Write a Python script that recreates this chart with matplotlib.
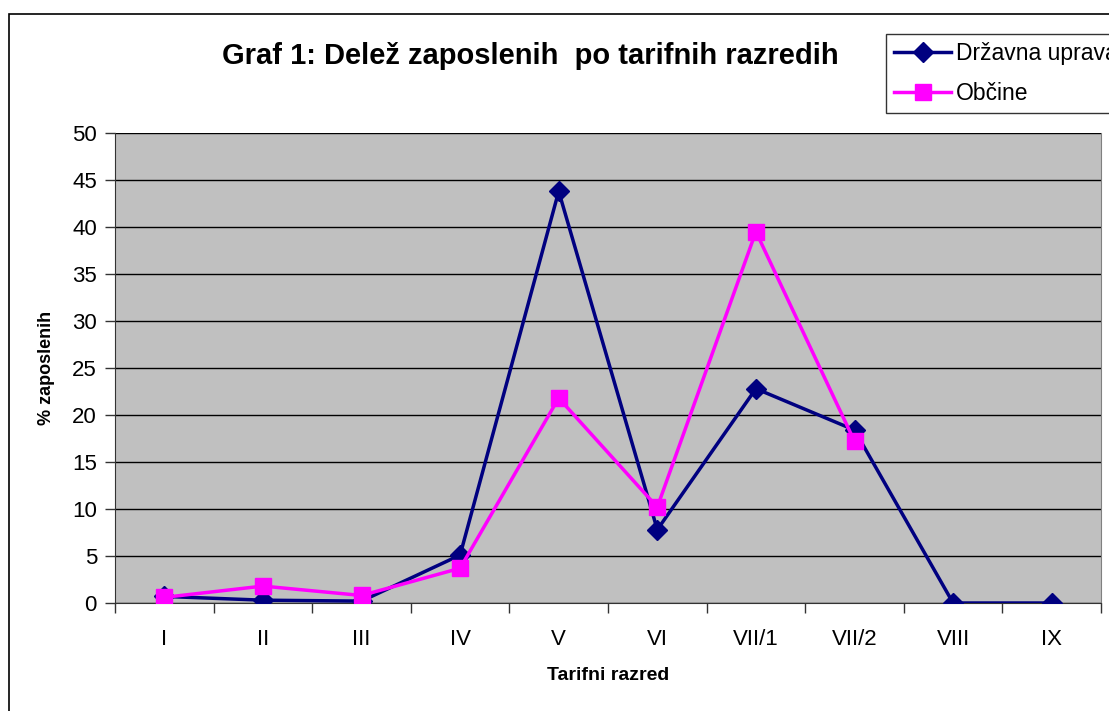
import matplotlib.pyplot as plt
import matplotlib.patches as mpatches
import numpy as np

razredi = ['I', 'II', 'III', 'IV', 'V', 'VI', 'VII/1', 'VII/2', 'VIII', 'IX']
drzavna_uprava = [0.7, 0.3, 0.2, 5.1, 43.8, 7.8, 22.8, 18.4, 0.0, 0.0]
obcine = [0.6, 1.8, 0.8, 3.7, 21.8, 10.2, 39.5, 17.2, np.nan, np.nan]

plt.rcParams['font.family'] = ['Liberation Sans', 'DejaVu Sans']

fig = plt.figure(figsize=(11.09, 7.11), dpi=100)
ax = fig.add_axes([115/1109, 1-603/711, (1101-115)/1109, (603-133)/711])
ax.set_facecolor('#C0C0C0')

x = np.arange(len(razredi))
ax.plot(x, drzavna_uprava, color='#000080', lw=2.5, marker='D', markersize=10,
        label='Državna uprava', zorder=3)
ax.plot(x, obcine, color='#FF00FF', lw=2.5, marker='s', markersize=12,
        label='Občine', zorder=4)

ax.set_xlim(-0.5, 9.5)
ax.set_ylim(0, 50)
ax.set_yticks(np.arange(0, 51, 5))
ax.yaxis.grid(True, color='black', lw=1)
ax.set_axisbelow(True)
ax.set_xticks(x)
ax.set_xticklabels(razredi)
ax.set_xticks(np.arange(-0.5, 10, 1), minor=True)
ax.tick_params(axis='x', which='major', length=0, pad=19, labelsize=16)
ax.tick_params(axis='x', which='minor', length=7, width=1, color='#333333')
ax.tick_params(axis='y', length=7, width=1, color='#333333', labelsize=16, pad=6)

ax.spines['top'].set_visible(False)
ax.spines['right'].set_color('#808080')
ax.spines['left'].set_color('#333333')
ax.spines['bottom'].set_color('#333333')

ax.set_ylabel('% zaposlenih', fontsize=13, fontweight='bold', labelpad=12)
ax.set_xlabel('Tarifni razred', fontsize=14, fontweight='bold', labelpad=12)

fig.text(530/1109, 1-56/711, 'Graf 1: Delež zaposlenih  po tarifnih razredih',
         ha='center', va='center', fontsize=21, fontweight='bold')

leg = fig.legend(loc='upper left', bbox_to_anchor=(886/1109, 1-34/711),
                 fontsize=16.5, frameon=True, fancybox=False, edgecolor='black',
                 handlelength=2.5, borderpad=0.35, labelspacing=0.75,
                 handletextpad=0.2, borderaxespad=0)
leg.get_frame().set_linewidth(1)

# okvir grafa
fig.patches.append(mpatches.Rectangle((9/1109, -0.1), 1.2, 1-14/711+0.1,
                                      transform=fig.transFigure, fill=False,
                                      edgecolor='black', lw=1.2))

fig.savefig('out.png', dpi=100)
